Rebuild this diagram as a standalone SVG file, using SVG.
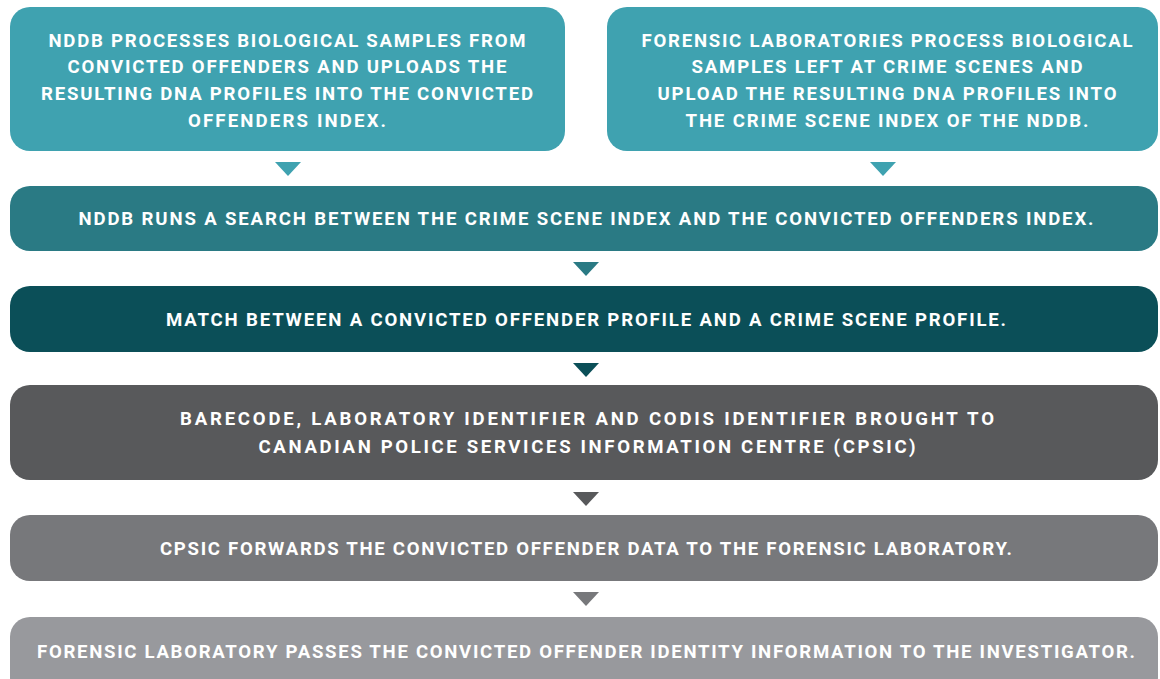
<svg xmlns="http://www.w3.org/2000/svg" width="1160" height="679" viewBox="0 0 1160 679">
  <style>
    .lbl { font-family: Roboto, "Liberation Sans", "DejaVu Sans", sans-serif; font-weight: 700; font-size: 18.6px; fill: #ffffff; text-anchor: middle; }
    .c1 { fill: #3fa2b0; }
    .c2 { fill: #2a7a84; }
    .c3 { fill: #0b4f58; }
    .c4 { fill: #58595b; }
    .c5 { fill: #77787b; }
    .c6 { fill: #98999d; }
  </style>
  <rect width="1160" height="679" fill="#ffffff"/>

  <!-- flow arrows -->
  <g id="connectors">
    <polygon class="c1" points="275,162 301,162 288,176"/>
    <polygon class="c1" points="870,162 896,162 883,176"/>
    <polygon class="c2" points="573,262 599,262 586,276"/>
    <polygon class="c3" points="573,363 599,363 586,377"/>
    <polygon class="c4" points="573,492 599,492 586,506"/>
    <polygon class="c5" points="573,592 599,592 586,606"/>
  </g>

  <g id="node-nddb-upload">
    <rect class="c1" x="10" y="7" width="555" height="144" rx="20"/>
    <text class="lbl" x="287" y="47" textLength="477" lengthAdjust="spacing">NDDB PROCESSES BIOLOGICAL SAMPLES FROM</text>
    <text class="lbl" x="287" y="73" textLength="439" lengthAdjust="spacing">CONVICTED OFFENDERS AND UPLOADS THE</text>
    <text class="lbl" x="287" y="100" textLength="492" lengthAdjust="spacing">RESULTING DNA PROFILES INTO THE CONVICTED</text>
    <text class="lbl" x="287" y="127" textLength="198" lengthAdjust="spacing">OFFENDERS INDEX.</text>
  </g>

  <g id="node-lab-upload">
    <rect class="c1" x="607" y="7" width="551" height="144" rx="20"/>
    <text class="lbl" x="887" y="47" textLength="491" lengthAdjust="spacing">FORENSIC LABORATORIES PROCESS BIOLOGICAL</text>
    <text class="lbl" x="887" y="73" textLength="391" lengthAdjust="spacing">SAMPLES LEFT AT CRIME SCENES AND</text>
    <text class="lbl" x="887" y="100" textLength="459" lengthAdjust="spacing">UPLOAD THE RESULTING DNA PROFILES INTO</text>
    <text class="lbl" x="887" y="127" textLength="403" lengthAdjust="spacing">THE CRIME SCENE INDEX OF THE NDDB.</text>
  </g>

  <g id="node-search">
    <rect class="c2" x="10" y="186" width="1148" height="65" rx="20"/>
    <text class="lbl" x="586" y="225" textLength="1015" lengthAdjust="spacing">NDDB RUNS A SEARCH BETWEEN THE CRIME SCENE INDEX AND THE CONVICTED OFFENDERS INDEX.</text>
  </g>

  <g id="node-match">
    <rect class="c3" x="10" y="286" width="1148" height="66" rx="20"/>
    <text class="lbl" x="586" y="326" textLength="840" lengthAdjust="spacing">MATCH BETWEEN A CONVICTED OFFENDER PROFILE AND A CRIME SCENE PROFILE.</text>
  </g>

  <g id="node-cpsic">
    <rect class="c4" x="10" y="385" width="1148" height="95" rx="20"/>
    <text class="lbl" x="587" y="425" textLength="814" lengthAdjust="spacing">BARECODE, LABORATORY IDENTIFIER AND CODIS IDENTIFIER BROUGHT TO</text>
    <text class="lbl" x="587" y="453" textLength="657" lengthAdjust="spacing">CANADIAN POLICE SERVICES INFORMATION CENTRE (CPSIC)</text>
  </g>

  <g id="node-forward">
    <rect class="c5" x="10" y="515" width="1148" height="66" rx="20"/>
    <text class="lbl" x="586" y="555" textLength="852" lengthAdjust="spacing">CPSIC FORWARDS THE CONVICTED OFFENDER DATA TO THE FORENSIC LABORATORY.</text>
  </g>

  <g id="node-investigator">
    <rect class="c6" x="10" y="617" width="1148" height="80" rx="20"/>
    <text class="lbl" x="586" y="658" textLength="1098" lengthAdjust="spacing">FORENSIC LABORATORY PASSES THE CONVICTED OFFENDER IDENTITY INFORMATION TO THE INVESTIGATOR.</text>
  </g>
</svg>
